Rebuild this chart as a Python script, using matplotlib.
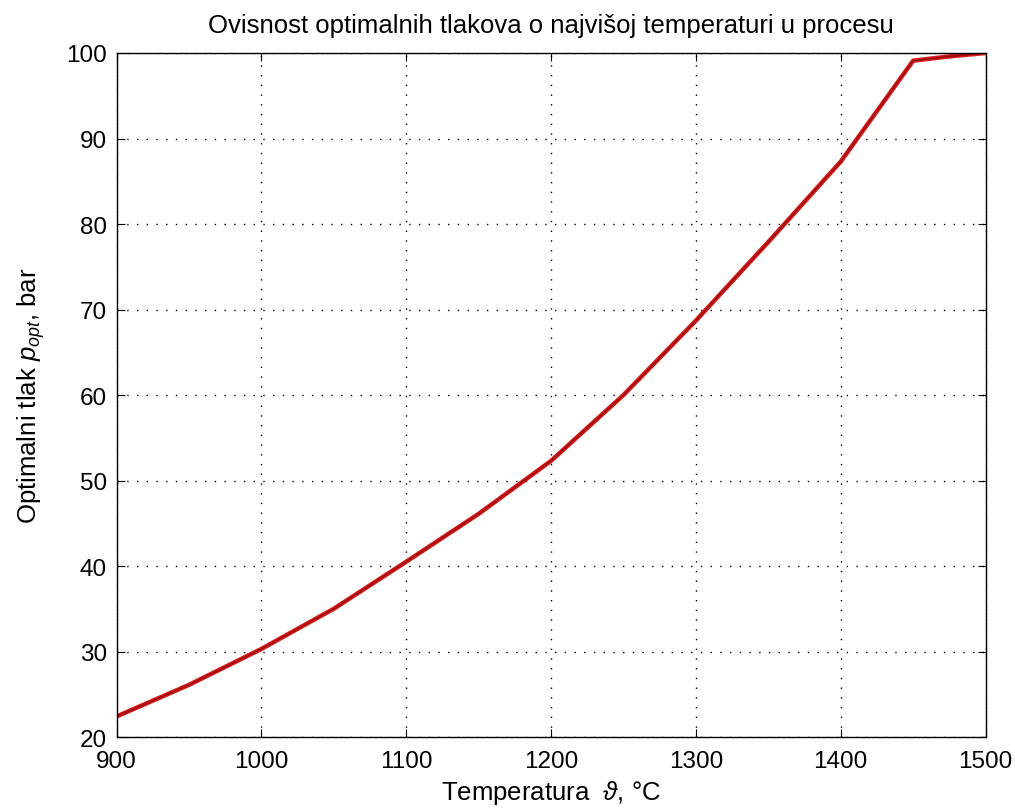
import numpy as np
import matplotlib.pyplot as plt

plt.rcParams['font.family'] = ['Liberation Sans', 'DejaVu Sans']
plt.rcParams['mathtext.fontset'] = 'custom'
plt.rcParams['mathtext.it'] = 'Liberation Sans:italic'
plt.rcParams['mathtext.rm'] = 'Liberation Sans'

# temperatura (C) i optimalni tlak (bar), ocitano sa slike
temp = [900, 950, 1000, 1050, 1100, 1150, 1200, 1250, 1300, 1350, 1400, 1450, 1475, 1500]
p_opt = [22.4, 26.1, 30.3, 35.0, 40.5, 46.1, 52.3, 60.0, 68.7, 77.9, 87.3, 99.1, 99.6, 100.0]

xticks = [900, 1000, 1100, 1200, 1300, 1400, 1500]
yticks = [20, 30, 40, 50, 60, 70, 80, 90, 100]

fig = plt.figure(figsize=(10.15, 8.12), dpi=100)
ax = fig.add_axes([0.1148, 0.0911, 0.8562, 0.8424])

ax.plot(temp, p_opt, color='#d41a1a', lw=3.2, solid_joinstyle='round')
ax.plot(temp, p_opt, color='#9a0c0c', lw=1.0)

ax.set_xlim(900, 1500)
ax.set_ylim(20, 100)
ax.set_xticks(xticks)
ax.set_yticks(yticks)
ax.grid(True, color='black', linestyle=(0, (1, 6)), lw=1.0)
ax.tick_params(direction='in', length=6, top=True, right=True, labelsize=17.5)
ax.tick_params(axis='x', pad=9)
ax.tick_params(axis='y', pad=7)
for s in ax.spines.values():
    s.set_linewidth(1.0)

ax.set_title('Ovisnost optimalnih tlakova o najvišoj temperaturi u procesu', fontsize=18.5, pad=15)
ax.set_xlabel(r'Temperatura  $\vartheta$, °C', fontsize=18.5, labelpad=5)
ax.set_ylabel(r'Optimalni tlak $p_{opt}$, bar', fontsize=18.5, labelpad=14)

fig.savefig('out.png', dpi=100)
